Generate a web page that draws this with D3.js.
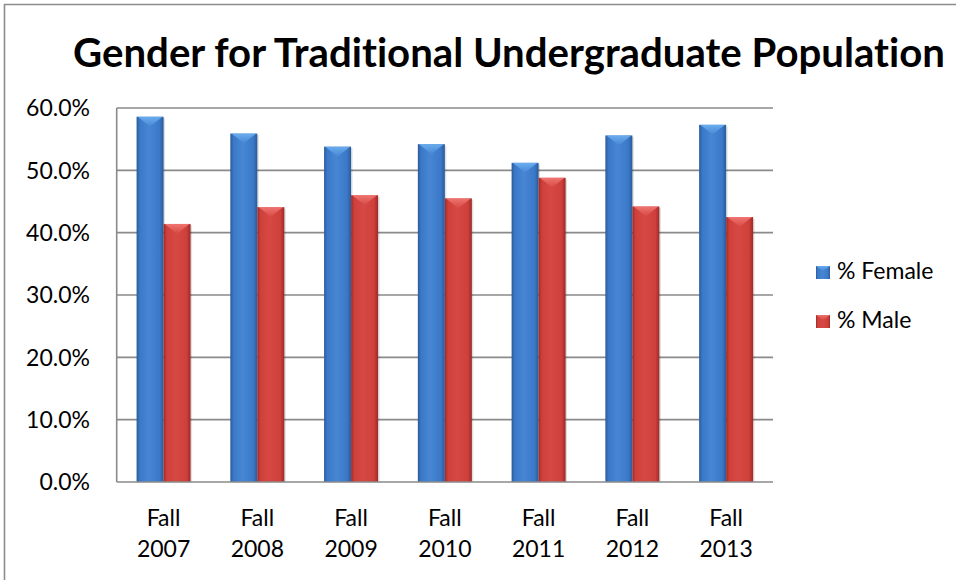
<!DOCTYPE html>
<html><head><meta charset="utf-8">
<script src="https://cdn.jsdelivr.net/npm/d3@7"></script>
<style>body{margin:0;background:#fff}svg{display:block}text{font-variant-ligatures:none;font-feature-settings:"liga" 0,"clig" 0}</style>
</head><body>
<svg id="c" width="956" height="580"></svg>
<script>
const categories = ["Fall 2007","Fall 2008","Fall 2009","Fall 2010","Fall 2011","Fall 2012","Fall 2013"];
const seriesNames = ["% Female","% Male"];
const female = [58.6, 55.9, 53.8, 54.2, 51.2, 55.6, 57.3];
const male   = [41.4, 44.1, 46.0, 45.5, 48.8, 44.2, 42.5];
const yTicks = [0,10,20,30,40,50,60];
const title = "Gender for Traditional Undergraduate Population";

const svg = d3.select("#c");
const font = "Lato, 'Open Sans', sans-serif";
const L = 116.7, R = 773, T = 108, B = 482;

const x = d3.scaleBand().domain(categories).range([L, R]).paddingInner(0.424).paddingOuter(0.212);
const xs = d3.scaleBand().domain(seriesNames).range([0, x.bandwidth()]);
const y = d3.scaleLinear().domain([0, 60]).range([B, T]);

const defs = svg.append("defs");
const pal = {
  "% Female": {edge:"#2b5a98", mid:"#3b79c8", light:"#4686d3", top:"#6fb2f2"},
  "% Male":   {edge:"#9c2a28", mid:"#cf403b", light:"#d64843", top:"#f27a76"}
};
seriesNames.forEach((s,i)=>{
  const g = defs.append("linearGradient").attr("id","g"+i).attr("x1","0").attr("x2","1").attr("y1","0").attr("y2","0");
  g.append("stop").attr("offset","0").attr("stop-color",pal[s].edge);
  g.append("stop").attr("offset","0.12").attr("stop-color",pal[s].mid);
  g.append("stop").attr("offset","0.45").attr("stop-color",pal[s].light);
  g.append("stop").attr("offset","0.85").attr("stop-color",pal[s].mid);
  g.append("stop").attr("offset","1").attr("stop-color",pal[s].edge);
  const t = defs.append("linearGradient").attr("id","t"+i).attr("x1","0").attr("x2","0").attr("y1","0").attr("y2","1");
  t.append("stop").attr("offset","0").attr("stop-color",pal[s].top);
  t.append("stop").attr("offset","1").attr("stop-color",pal[s].light);
});

// outer frame
svg.append("path").attr("d","M4.5,580 V4.5 H956").attr("fill","none").attr("stroke","#8c8c8c").attr("stroke-width",1.6);

// gridlines
svg.append("g").selectAll("line").data(yTicks.filter(d=>d>0)).join("line")
  .attr("x1",L).attr("x2",R).attr("y1",d=>y(d)).attr("y2",d=>y(d))
  .attr("stroke","#8a8a8a").attr("stroke-width",1.6);

// bars
const data = categories.map((c,i)=>({c, vals:[{s:seriesNames[0],v:female[i],k:0},{s:seriesNames[1],v:male[i],k:1}]}));
const groups = svg.append("g").selectAll("g").data(data).join("g").attr("transform",d=>`translate(${x(d.c)},0)`);
groups.selectAll("rect.shadow").data(d=>d.vals).join("rect").attr("class","shadow")
  .attr("x",d=>xs(d.s)+1.5).attr("width",xs.bandwidth()).attr("y",d=>y(d.v)+1.5).attr("height",d=>B-y(d.v)-1.5)
  .attr("fill","rgba(0,0,0,0.12)");
groups.selectAll("rect.bar").data(d=>d.vals).join("rect").attr("class","bar")
  .attr("x",d=>xs(d.s)).attr("width",xs.bandwidth()).attr("y",d=>y(d.v)).attr("height",d=>B-y(d.v))
  .attr("fill",d=>`url(#g${d.k})`);
groups.selectAll("path.top").data(d=>d.vals).join("path").attr("class","top")
  .attr("d",d=>{const x0=xs(d.s), w=xs.bandwidth(), y0=y(d.v);
    return `M${x0+1},${y0} H${x0+w-1} L${x0+w-5},${y0+3} L${x0+w/2},${y0+10} L${x0+5},${y0+3} Z`;})
  .attr("fill",d=>`url(#t${d.k})`).attr("opacity",0.9);

// axes lines
svg.append("line").attr("x1",L).attr("x2",L).attr("y1",T).attr("y2",B).attr("stroke","#8a8a8a").attr("stroke-width",1.6);
svg.append("line").attr("x1",L).attr("x2",R).attr("y1",B).attr("y2",B).attr("stroke","#8a8a8a").attr("stroke-width",1.6);

// y labels
svg.append("g").selectAll("text").data(yTicks).join("text")
  .attr("x",90).attr("y",d=>y(d)).attr("dy","0.36em").attr("text-anchor","end")
  .attr("font-family",font).attr("font-size",23).attr("fill","#000")
  .text(d=>d3.format(".1f")(d)+"%");

// x labels
const xl = svg.append("g").selectAll("text").data(categories).join("text")
  .attr("x",d=>x(d)+x.bandwidth()/2).attr("text-anchor","middle")
  .attr("font-family",font).attr("font-size",23).attr("fill","#000");
xl.each(function(d){
  const parts = d.split(" ");
  d3.select(this).selectAll("tspan").data(parts).join("tspan")
    .attr("x",x(d)+x.bandwidth()/2).attr("y",(p,i)=>526+i*31).text(p=>p);
});

// title
const tt = svg.append("text").attr("x",509).attr("y",67).attr("text-anchor","middle")
  .attr("font-family",font).attr("font-weight","bold").attr("font-size",33).attr("fill","#000").text(title);
const tw = tt.node().getComputedTextLength();
tt.attr("font-size", 33*872/tw);

// legend
const lg = svg.append("g").selectAll("g").data(seriesNames).join("g")
  .attr("transform",(d,i)=>`translate(816,${271+i*49})`);
lg.append("rect").attr("x",0).attr("y",-5).attr("width",14).attr("height",13).attr("fill",(d,i)=>`url(#g${i})`);
lg.append("path").attr("d","M0,-5 H14 L7,0 Z").attr("fill",(d,i)=>`url(#t${i})`).attr("opacity",0.85);
lg.append("text").attr("x",21).attr("y",0).attr("dy","0.36em")
  .attr("font-family",font).attr("font-size",23).attr("fill","#000").text(d=>d);
</script>
</body></html>
